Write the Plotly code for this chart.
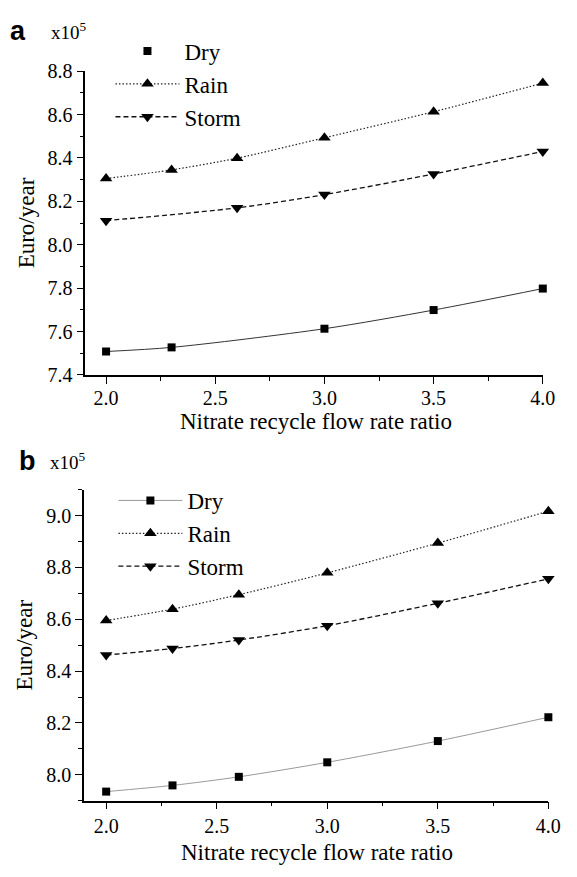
import plotly.graph_objects as go

# ---- data ----
ratio_a_dry = [2.0, 2.3, 3.0, 3.5, 4.0]
cost_a_dry = [7.508, 7.527, 7.613, 7.699, 7.798]
ratio_a_rain = [2.0, 2.3, 2.6, 3.0, 3.5, 4.0]
cost_a_rain = [8.305, 8.345, 8.399, 8.493, 8.613, 8.745]
ratio_a_storm = [2.0, 2.6, 3.0, 3.5, 4.0]
cost_a_storm = [8.111, 8.170, 8.231, 8.326, 8.430]

ratio_b = [2.0, 2.3, 2.6, 3.0, 3.5, 4.0]
cost_b_dry = [7.935, 7.959, 7.992, 8.048, 8.130, 8.222]
cost_b_rain = [8.595, 8.639, 8.695, 8.779, 8.894, 9.017]
cost_b_storm = [8.462, 8.487, 8.520, 8.575, 8.662, 8.756]

series_names = ["Dry", "Rain", "Storm"]
x_title = "Nitrate recycle flow rate ratio"
y_title = "Euro/year"

W, H = 577, 877
FONT = "Liberation Serif"

fig = go.Figure()

def px_x(v):
    return v / W

def px_y(v):
    return 1 - v / H

SMOOTH = 0.8
DOT = "1.5px,2px"
DASH = "5px,3px"

# ---- panel a ----
fig.add_trace(go.Scatter(x=ratio_a_dry, y=cost_a_dry, mode="lines",
                         line=dict(color="#333333", width=1, shape="spline", smoothing=SMOOTH),
                         showlegend=False, xaxis="x", yaxis="y", cliponaxis=False))
fig.add_trace(go.Scatter(x=ratio_a_dry, y=cost_a_dry, mode="markers", name=series_names[0],
                         marker=dict(symbol="square", size=8, color="black"),
                         legend="legend", legendgroup="a1", xaxis="x", yaxis="y", cliponaxis=False))
fig.add_trace(go.Scatter(x=ratio_a_rain, y=cost_a_rain, mode="lines+markers", name=series_names[1],
                         line=dict(color="#222222", width=1.2, dash=DOT, shape="spline", smoothing=SMOOTH),
                         marker=dict(symbol="triangle-up", size=11, color="black"),
                         legend="legend", legendgroup="a2", xaxis="x", yaxis="y", cliponaxis=False))
fig.add_trace(go.Scatter(x=ratio_a_storm, y=cost_a_storm, mode="lines+markers", name=series_names[2],
                         line=dict(color="#111111", width=1.3, dash=DASH, shape="spline", smoothing=SMOOTH),
                         marker=dict(symbol="triangle-down", size=11, color="black"),
                         legend="legend", legendgroup="a3", xaxis="x", yaxis="y", cliponaxis=False))

# ---- panel b ----
fig.add_trace(go.Scatter(x=ratio_b, y=cost_b_dry, mode="lines+markers", name=series_names[0],
                         line=dict(color="#999999", width=1, shape="spline", smoothing=SMOOTH),
                         marker=dict(symbol="square", size=8, color="black"),
                         legend="legend2", legendgroup="b1", xaxis="x2", yaxis="y2", cliponaxis=False))
fig.add_trace(go.Scatter(x=ratio_b, y=cost_b_rain, mode="lines+markers", name=series_names[1],
                         line=dict(color="#222222", width=1.2, dash=DOT, shape="spline", smoothing=SMOOTH),
                         marker=dict(symbol="triangle-up", size=11, color="black"),
                         legend="legend2", legendgroup="b2", xaxis="x2", yaxis="y2", cliponaxis=False))
fig.add_trace(go.Scatter(x=ratio_b, y=cost_b_storm, mode="lines+markers", name=series_names[2],
                         line=dict(color="#111111", width=1.3, dash=DASH, shape="spline", smoothing=SMOOTH),
                         marker=dict(symbol="triangle-down", size=11, color="black"),
                         legend="legend2", legendgroup="b3", xaxis="x2", yaxis="y2", cliponaxis=False))

tickfont = dict(family=FONT, size=20, color="black")
titlefont = dict(family=FONT, size=23, color="black")

def xaxis_cfg(domain, rng, anchor, lblshift):
    return dict(domain=domain, range=rng, anchor=anchor, showline=True, linecolor="black",
                linewidth=1.5, ticks="outside", ticklen=7, tickwidth=1.3, tickcolor="black",
                tick0=2.0, dtick=0.5, tickformat=".1f", tickfont=tickfont,
                ticklabelstandoff=lblshift,
                minor=dict(dtick=0.25, tick0=2.0, ticks="outside", ticklen=4, tickcolor="black", tickwidth=1.2),
                showgrid=False, zeroline=False, mirror=False)

def yaxis_cfg(domain, rng, anchor, tick0):
    return dict(domain=domain, range=rng, anchor=anchor, showline=True, linecolor="black",
                linewidth=1.5, ticks="outside", ticklen=7, tickwidth=1.3, tickcolor="black",
                tick0=tick0, dtick=0.2, tickformat=".1f", tickfont=tickfont,
                minor=dict(dtick=0.1, ticks="outside", ticklen=4, tickcolor="black", tickwidth=1.2),
                showgrid=False, zeroline=False, mirror=False,
                title=dict(text=y_title, font=titlefont, standoff=7))

legend_font = dict(family=FONT, size=23, color="black")

fig.update_layout(
    width=W, height=H,
    margin=dict(l=0, r=0, t=0, b=0),
    paper_bgcolor="white", plot_bgcolor="white",
    xaxis=xaxis_cfg([px_x(87.3), px_x(555.3)], [1.905, 4.0], "y", -3),
    yaxis=yaxis_cfg([px_y(373.3), px_y(61.7)], [7.4, 8.8], "x", 7.4),
    xaxis2=xaxis_cfg([px_x(86), px_x(561)], [1.9, 4.0], "y2", 0),
    yaxis2=yaxis_cfg([px_y(810), px_y(491)], [7.9, 9.1], "x2", 7.8),
    legend=dict(x=px_x(113), y=px_y(19), xanchor="left", yanchor="top",
                font=legend_font, bgcolor="rgba(0,0,0,0)",
                itemwidth=64, tracegroupgap=0),
    legend2=dict(x=px_x(116), y=px_y(480), xanchor="left", yanchor="top",
                 font=legend_font, bgcolor="rgba(0,0,0,0)",
                 itemwidth=64, tracegroupgap=0),
    annotations=[
        dict(text="<b>a</b>", x=px_x(8), y=px_y(21), xref="paper", yref="paper",
             xanchor="left", yanchor="middle", showarrow=False,
             font=dict(family="Liberation Sans", size=27, color="black")),
        dict(text="x10<sup>5</sup>", x=px_x(50), y=px_y(21), xref="paper", yref="paper",
             xanchor="left", yanchor="middle", showarrow=False,
             font=dict(family=FONT, size=19, color="black")),
        dict(text="<b>b</b>", x=px_x(17), y=px_y(462), xref="paper", yref="paper",
             xanchor="left", yanchor="middle", showarrow=False,
             font=dict(family="Liberation Sans", size=27, color="black")),
        dict(text="x10<sup>5</sup>", x=px_x(49), y=px_y(462), xref="paper", yref="paper",
             xanchor="left", yanchor="middle", showarrow=False,
             font=dict(family=FONT, size=19, color="black")),
        dict(text=x_title, x=px_x(323), y=px_y(421), xref="paper", yref="paper",
             xanchor="center", yanchor="middle", showarrow=False, font=titlefont),
        dict(text=x_title, x=px_x(324), y=px_y(863), xref="paper", yref="paper",
             xanchor="center", yanchor="middle", showarrow=False, font=titlefont),
    ],
)

fig.write_html("out.html")
